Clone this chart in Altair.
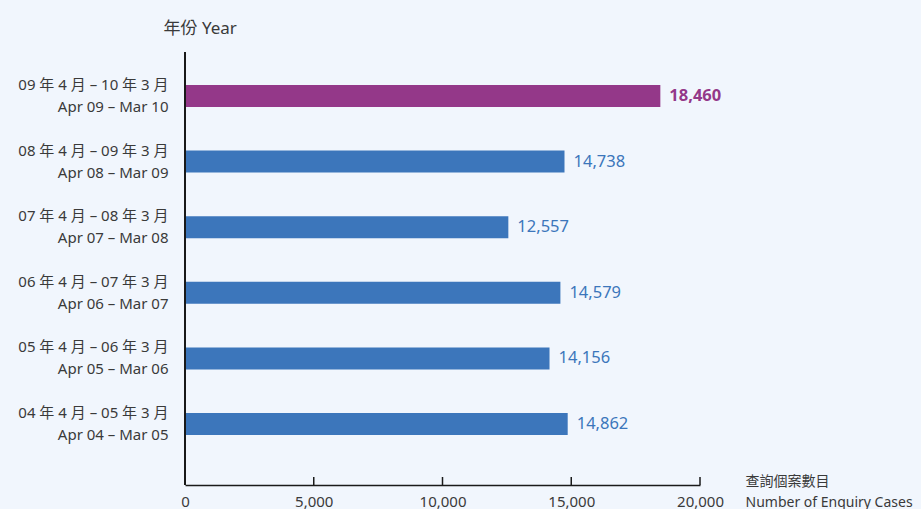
import altair as alt
import pandas as pd

periods_zh = ["09 年 4 月 – 10 年 3 月", "08 年 4 月 – 09 年 3 月", "07 年 4 月 – 08 年 3 月",
              "06 年 4 月 – 07 年 3 月", "05 年 4 月 – 06 年 3 月", "04 年 4 月 – 05 年 3 月"]
periods_en = ["Apr 09 – Mar 10", "Apr 08 – Mar 09", "Apr 07 – Mar 08",
              "Apr 06 – Mar 07", "Apr 05 – Mar 06", "Apr 04 – Mar 05"]
cases = [18460, 14738, 12557, 14579, 14156, 14862]
groups = ["latest", "earlier", "earlier", "earlier", "earlier", "earlier"]
x_ticks = [0, 5000, 10000, 15000, 20000]

labels = [z + "|" + e for z, e in zip(periods_zh, periods_en)]
df = pd.DataFrame({"period": labels, "cases": cases, "group": groups})
ticks_df = pd.DataFrame({"v": x_ticks})

FONT = "Noto Sans, Noto Sans CJK TC, sans-serif"
PURPLE = "#943889"
BLUE = "#3c76bb"
TXT = "#3a3a3a"
AXC = "#1a1a1a"

W, H = 515, 433

xscale = alt.Scale(domain=[0, 20000], nice=False)
yscale = alt.Scale(domain=labels, range=[11.2, 404.8], paddingInner=0.665, paddingOuter=0.3325)
cscale = alt.Scale(domain=["latest", "earlier"], range=[PURPLE, BLUE])

x_axis = alt.Axis(
    values=x_ticks, labelExpr="format(datum.value, ',')", grid=False, ticks=False,
    domainColor=AXC, domainWidth=1.5, labelFlush=False,
    labelFont=FONT, labelFontSize=15, labelColor=TXT, labelPadding=9,
    title=["查詢個案數目", "Number of Enquiry Cases"],
    titleFont=FONT, titleFontSize=14, titleFontWeight="normal", titleColor=TXT,
    titleAlign="left", titleAnchor="start", titleBaseline="alphabetic",
    titleX=560, titleY=0, titleLineHeight=21,
)
y_axis = alt.Axis(
    labelExpr="split(datum.label, '|')", labelLineHeight=22, labelOffset=-11,
    ticks=False, grid=False, domain=False,
    labelFont=FONT, labelFontSize=15, labelColor=TXT, labelPadding=17,
    title="年份 Year", titleAngle=0, titleFont=FONT, titleFontSize=17,
    titleFontWeight="normal", titleColor=TXT, titleAlign="left",
    titleBaseline="alphabetic", titleX=-22, titleY=-19,
)

base = alt.Chart(df)
bars = base.mark_bar().encode(
    x=alt.X("cases:Q", scale=xscale, axis=x_axis),
    y=alt.Y("period:N", sort=labels, scale=yscale, axis=y_axis),
    color=alt.Color("group:N", scale=cscale, legend=None),
)
txt_hi = base.transform_filter(alt.datum.group == "latest").mark_text(
    align="left", baseline="middle", dx=9, font=FONT, fontSize=16.5, fontWeight="bold", color=PURPLE
).encode(
    x=alt.X("cases:Q", scale=xscale),
    y=alt.Y("period:N", sort=labels, scale=yscale),
    text=alt.Text("cases:Q", format=","),
)
txt_lo = base.transform_filter(alt.datum.group == "earlier").mark_text(
    align="left", baseline="middle", dx=9, font=FONT, fontSize=16.5, color=BLUE
).encode(
    x=alt.X("cases:Q", scale=xscale),
    y=alt.Y("period:N", sort=labels, scale=yscale),
    text=alt.Text("cases:Q", format=","),
)
ticks = alt.Chart(ticks_df).mark_rule(color=AXC, strokeWidth=1.5).encode(
    x=alt.X("v:Q", scale=xscale),
    y=alt.value(H),
    y2=alt.value(H - 8),
)
yline = alt.Chart(ticks_df).mark_rule(color=AXC, strokeWidth=1.5).encode(
    x=alt.value(0),
    y=alt.value(0),
    y2=alt.value(H),
)

chart = alt.layer(bars, txt_hi, txt_lo, ticks, yline).properties(
    width=W, height=H,
    autosize=alt.AutoSizeParams(type="none"),
    padding={"left": 185, "top": 52, "right": 221, "bottom": 24},
    background="#f1f6fd",
).configure_view(stroke=None)

chart.save("out.html", embed_options={"renderer": "svg", "actions": False})
